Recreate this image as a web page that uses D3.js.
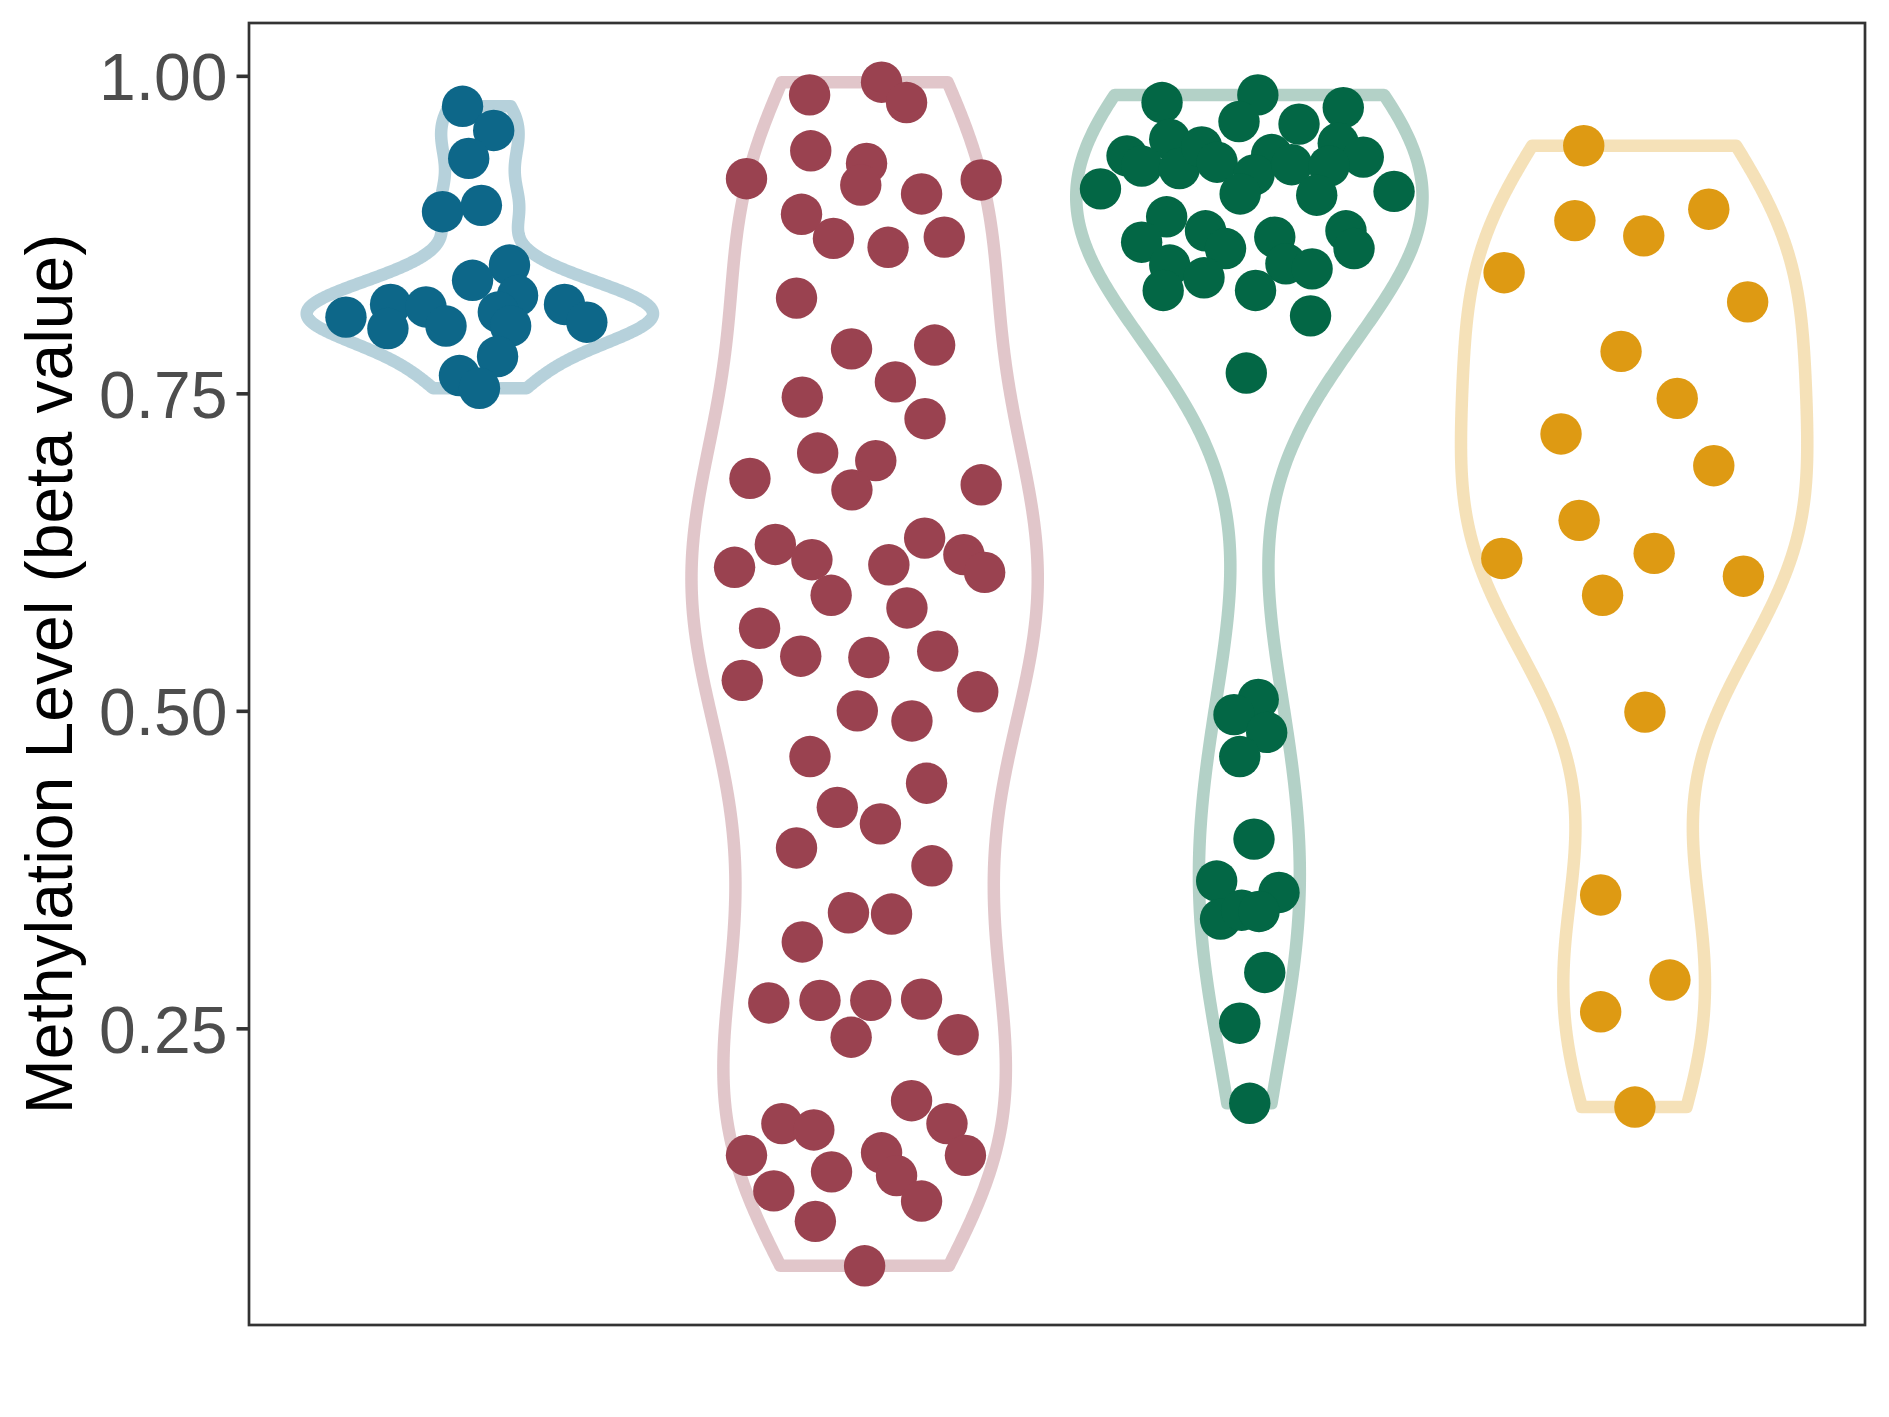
<!DOCTYPE html>
<html>
<head>
<meta charset="utf-8">
<script src="https://cdn.jsdelivr.net/npm/d3@7"></script>
<style>
    body { margin: 0; background: #ffffff; }
    svg { display: block; font-family: "Liberation Sans", Arial, Helvetica, sans-serif; }
</style>
</head>
<body>
<svg id="chart"></svg>
<script>
// Groups shown left to right (no x labels in the figure)
const categories = ['group1', 'group2', 'group3', 'group4'];
const pointColors = ['#0D6789', '#9A4250', '#036745', '#DE9A13'];
const yTicks = [0.25, 0.50, 0.75, 1.00];
const yTitle = 'Methylation Level (beta value)';

// beta values, with the horizontal jitter of each dot (in category units)
const group1Values = [0.976, 0.957, 0.935, 0.893, 0.898, 0.851, 0.839, 0.827, 0.810, 0.820,
    0.818, 0.801, 0.803, 0.814, 0.803, 0.820, 0.806, 0.779, 0.764, 0.754];
const group1Jitter = [-0.045, 0.036, -0.029, -0.097, 0.004, 0.077, -0.019, 0.098, -0.348, -0.232,
    -0.140, -0.239, -0.088, 0.048, 0.080, 0.220, 0.278, 0.046, -0.053, -0.001];

const group2Values = [0.985, 0.995, 0.979, 0.941, 0.931, 0.914, 0.919, 0.918, 0.907, 0.891,
    0.872, 0.865, 0.873, 0.825, 0.785, 0.788, 0.759, 0.747, 0.730, 0.703,
    0.697, 0.683, 0.674, 0.678, 0.631, 0.613, 0.619, 0.615, 0.636, 0.623,
    0.609, 0.591, 0.581, 0.565, 0.543, 0.542, 0.547, 0.524, 0.515, 0.500,
    0.492, 0.464, 0.443, 0.424, 0.411, 0.392, 0.378, 0.341, 0.340, 0.318,
    0.270, 0.272, 0.272, 0.273, 0.243, 0.245, 0.193, 0.175, 0.170, 0.175,
    0.150, 0.152, 0.150, 0.137, 0.134, 0.122, 0.114, 0.098, 0.063];
const group2Jitter = [-0.143, 0.044, 0.109, -0.140, 0.005, -0.010, -0.307, 0.303, 0.148, -0.164,
    -0.081, 0.061, 0.207, -0.177, -0.034, 0.182, 0.080, -0.162, 0.157, -0.122,
    0.029, -0.298, -0.033, 0.303, -0.232, -0.338, -0.137, 0.063, 0.156, 0.258,
    0.312, -0.087, 0.110, -0.273, -0.166, 0.011, 0.190, -0.318, 0.294, -0.019,
    0.123, -0.142, 0.161, -0.071, 0.041, -0.177, 0.175, -0.042, 0.070, -0.162,
    -0.249, -0.116, 0.016, 0.148, -0.035, 0.243, 0.122, -0.215, -0.132, 0.214,
    -0.307, 0.044, 0.262, -0.086, 0.083, -0.236, 0.148, -0.128, 0.000];

const group3Values = [0.979, 0.985, 0.964, 0.962, 0.975, 0.950, 0.937, 0.929, 0.927, 0.944,
    0.932, 0.938, 0.922, 0.930, 0.947, 0.936, 0.929, 0.911, 0.907, 0.906,
    0.909, 0.889, 0.869, 0.878, 0.864, 0.873, 0.878, 0.864, 0.851, 0.852,
    0.848, 0.831, 0.841, 0.831, 0.811, 0.766, 0.509, 0.497, 0.483, 0.464,
    0.399, 0.366, 0.357, 0.336, 0.343, 0.342, 0.294, 0.254, 0.191];
const group3Jitter = [-0.227, 0.022, -0.027, 0.129, 0.244, -0.207, -0.318, -0.280, -0.182, -0.124,
    -0.084, 0.058, 0.012, 0.110, 0.231, 0.296, 0.207, -0.387, -0.024, 0.175,
    0.376, -0.215, -0.280, -0.114, -0.062, 0.066, 0.251, 0.272, -0.207, 0.095,
    0.163, -0.224, -0.118, 0.016, 0.159, -0.008, 0.023, -0.040, 0.045, -0.025,
    0.012, -0.085, 0.077, -0.075, -0.020, 0.025, 0.040, -0.025, 0.001];

const group4Values = [0.945, 0.886, 0.874, 0.895, 0.845, 0.822, 0.783, 0.746, 0.718, 0.693,
    0.650, 0.620, 0.624, 0.606, 0.591, 0.499, 0.355, 0.288, 0.263, 0.188];
const group4Jitter = [-0.131, -0.154, 0.025, 0.194, -0.338, 0.295, -0.034, 0.112, -0.190, 0.207,
    -0.143, -0.344, 0.052, 0.284, -0.082, 0.028, -0.087, 0.093, -0.087, 0.002];

class ViolinPlot {
    constructor(_config, _data) {
        this.config = {
            parentElement: _config.parentElement,
            containerWidth: _config.containerWidth || 1889,
            containerHeight: _config.containerHeight || 1417,
            margin: _config.margin || { top: 23, right: 24, bottom: 92, left: 249 }
        };
        this.data = _data;
        this.initVis();
    }

    initVis() {
        let vis = this;

        vis.width = vis.config.containerWidth - vis.config.margin.left - vis.config.margin.right;
        vis.height = vis.config.containerHeight - vis.config.margin.top - vis.config.margin.bottom;

        // discrete x like ggplot: 0.6 units of space on each side
        vis.xScale = d3.scaleBand()
            .domain(categories)
            .range([0, vis.width])
            .paddingInner(0)
            .paddingOuter(0.1);

        vis.yScale = d3.scaleLinear()
            .range([vis.height, 0]);

        vis.yAxis = d3.axisLeft(vis.yScale)
            .tickValues(yTicks)
            .tickFormat(d3.format('.2f'))
            .tickSize(12.5)
            .tickPadding(9);

        vis.svg = d3.select(vis.config.parentElement)
            .attr('width', vis.config.containerWidth)
            .attr('height', vis.config.containerHeight);

        vis.chart = vis.svg.append('g')
            .attr('transform', `translate(${vis.config.margin.left}, ${vis.config.margin.top})`);

        vis.svg.append('text')
            .attr('class', 'axis-title')
            .attr('transform', `translate(71.5, ${vis.config.margin.top + vis.height / 2}) rotate(-90)`)
            .attr('text-anchor', 'middle')
            .attr('font-size', 66)
            .attr('fill', '#000000')
            .text(yTitle);

        vis.updateVis();
    }

    updateVis() {
        let vis = this;

        // ggplot expands continuous scales by 5% of the data range
        let all = vis.data.flatMap(d => d.values);
        let [lo, hi] = d3.extent(all);
        let pad = (hi - lo) * 0.05;
        vis.yScale.domain([lo - pad, hi + pad]);

        // gaussian kernel density per group, bw.nrd0, trimmed to the data range
        vis.violins = vis.data.map(g => {
            let sorted = g.values.slice().sort(d3.ascending);
            let n = sorted.length;
            let sd = d3.deviation(sorted);
            let iqr = d3.quantile(sorted, 0.75) - d3.quantile(sorted, 0.25);
            let bw = 0.9 * Math.min(sd, iqr / 1.34) * Math.pow(n, -0.2);
            let min = sorted[0], max = sorted[n - 1];
            let grid = d3.range(512).map(i => min + (max - min) * i / 511);
            let dens = grid.map(y => {
                let s = d3.sum(sorted, v => Math.exp(-0.5 * ((y - v) / bw) ** 2));
                return { y, d: s / (n * bw * Math.sqrt(2 * Math.PI)) };
            });
            let dMax = d3.max(dens, d => d.d);
            dens.forEach(d => d.w = d.d / dMax);
            return { ...g, dens };
        });

        vis.renderVis();
    }

    renderVis() {
        let vis = this;
        let step = vis.xScale.bandwidth();
        let center = cat => vis.xScale(cat) + step / 2;

        vis.area = d3.area()
            .curve(d3.curveLinear)
            .y(d => vis.yScale(d.y));

        vis.chart.selectAll('.violin')
            .data(vis.violins)
            .join('path')
            .attr('class', 'violin')
            .attr('d', g => vis.area
                .x0(d => center(g.category) - d.w * 0.45 * step)
                .x1(d => center(g.category) + d.w * 0.45 * step)(g.dens))
            .attr('fill', 'none')
            .attr('stroke', g => g.color)
            .attr('stroke-opacity', 0.3)
            .attr('stroke-width', 12.5)
            .attr('stroke-linejoin', 'round');

        let points = vis.violins.flatMap(g => g.values.map((v, i) => ({
            category: g.category, value: v, jitter: g.jitter[i], color: g.color
        })));

        vis.chart.selectAll('.dot')
            .data(points)
            .join('circle')
            .attr('class', 'dot')
            .attr('cx', d => center(d.category) + d.jitter * step)
            .attr('cy', d => vis.yScale(d.value))
            .attr('r', 20.7)
            .attr('fill', d => d.color);

        // panel border
        vis.chart.append('rect')
            .attr('x', 0)
            .attr('y', 0)
            .attr('width', vis.width)
            .attr('height', vis.height)
            .attr('fill', 'none')
            .attr('stroke', '#333333')
            .attr('stroke-width', 2.7);

        let yAxisG = vis.chart.append('g')
            .attr('class', 'axis y-axis')
            .call(vis.yAxis);

        yAxisG.select('.domain').remove();
        yAxisG.selectAll('.tick line')
            .attr('stroke', '#333333')
            .attr('stroke-width', 3.6);
        yAxisG.selectAll('.tick text')
            .attr('dy', '0.36em')
            .attr('font-size', 66)
            .attr('font-family', '"Liberation Sans", Arial, Helvetica, sans-serif')
            .attr('fill', '#4D4D4D');
    }
}

const groupData = [
    { category: categories[0], values: group1Values, jitter: group1Jitter, color: pointColors[0] },
    { category: categories[1], values: group2Values, jitter: group2Jitter, color: pointColors[1] },
    { category: categories[2], values: group3Values, jitter: group3Jitter, color: pointColors[2] },
    { category: categories[3], values: group4Values, jitter: group4Jitter, color: pointColors[3] }
];

const violinPlot = new ViolinPlot({ parentElement: '#chart' }, groupData);
</script>
</body>
</html>
